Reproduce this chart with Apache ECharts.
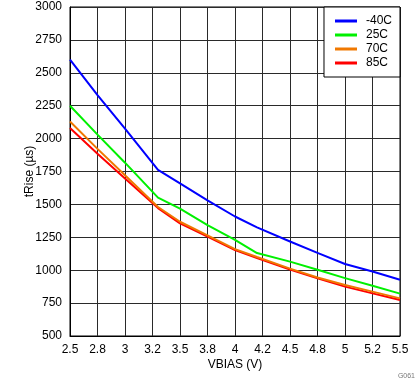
<!DOCTYPE html>
<html>
<head>
<meta charset="utf-8">
<script src="https://cdn.jsdelivr.net/npm/echarts@6/dist/echarts.min.js"></script>
<style>
html,body{margin:0;padding:0;background:#fff;}
#chart{width:419px;height:382px;}
</style>
</head>
<body>
<div id="chart"></div>
<script>
// Data
const vbias = [2.5, 2.75, 3.0, 3.3, 3.5, 3.75, 4.0, 4.2, 4.5, 4.75, 5.0, 5.25, 5.5];
const tRiseM40 = [2600, 2330, 2075, 1762, 1660, 1530, 1408, 1326, 1218, 1132, 1047, 990, 928];
const tRise25  = [2250, 2030, 1817, 1551, 1468, 1343, 1230, 1130, 1065, 1004, 940, 882, 822];
const tRise70  = [2130, 1922, 1722, 1480, 1368, 1265, 1160, 1100, 1012, 945, 888, 837, 786];
const tRise85  = [2080, 1885, 1697, 1472, 1356, 1255, 1153, 1093, 1005, 938, 875, 824, 773];
const seriesNames = ['-40C', '25C', '70C', '85C'];
const xTickLabels = ['2.5', '2.8', '3', '3.2', '3.5', '3.8', '4', '4.2', '4.5', '4.8', '5', '5.2', '5.5'];
const yTickLabels = ['500', '750', '1000', '1250', '1500', '1750', '2000', '2250', '2500', '2750', '3000'];

const colors = ['#0000ff', '#00f000', '#f07800', '#ff0000'];
const allData = [tRiseM40, tRise25, tRise70, tRise85];

const chart = echarts.init(document.getElementById('chart'), null, {renderer: 'canvas'});
const font = 'Liberation Sans, Arial, sans-serif';

const option = {
  animation: false,
  backgroundColor: '#fff',
  textStyle: {fontFamily: font},
  grid: {left: 70, right: 19, top: 7, bottom: 46, show: true, borderColor: '#000', borderWidth: 1},
  xAxis: {
    type: 'value', min: 2.5, max: 5.5, interval: 0.25,
    name: 'VBIAS (V)', nameLocation: 'middle', nameGap: 23, nameMoveOverlap: false,
    nameTextStyle: {fontSize: 12, color: '#000', fontFamily: font},
    axisLine: {show: true, lineStyle: {color: '#000', width: 1}},
    axisTick: {show: false},
    splitLine: {show: true, lineStyle: {color: '#2a2a2a', width: 1}},
    axisLabel: {
      margin: 8, fontSize: 12, color: '#000', fontFamily: font,
      formatter: function (v) { const i = Math.round((v - 2.5) / 0.25); return xTickLabels[i] || ''; }
    }
  },
  yAxis: {
    type: 'value', min: 500, max: 3000, interval: 250,
    name: 'tRise (µs)', nameLocation: 'middle', nameGap: 34, nameMoveOverlap: false,
    nameTextStyle: {fontSize: 12, color: '#000', fontFamily: font},
    axisLine: {show: true, lineStyle: {color: '#000', width: 1}},
    axisTick: {show: false},
    splitLine: {show: true, lineStyle: {color: '#2a2a2a', width: 1}},
    axisLabel: {
      margin: 8, fontSize: 12, color: '#000', fontFamily: font,
      formatter: function (v) { const i = Math.round((v - 500) / 250); return yTickLabels[i] || ''; }
    }
  },
  legend: {
    orient: 'vertical', right: 19, top: 7,
    padding: [8, 8, 8, 11], itemGap: 2, itemWidth: 22, itemHeight: 3,
    icon: 'rect',
    borderColor: '#000', borderWidth: 1, backgroundColor: '#fff',
    textStyle: {fontSize: 12, color: '#000', fontFamily: font, padding: [0, 0, 0, 4], lineHeight: 12},
    data: seriesNames
  },
  graphic: [{
    type: 'text', right: 4, bottom: 2,
    style: {text: 'G061', fontSize: 7, fill: '#777', fontFamily: font}
  }],
  series: seriesNames.map(function (name, k) {
    return {
      name: name, type: 'line', symbol: 'none',
      data: vbias.map(function (x, i) { return [x, allData[k][i]]; }),
      lineStyle: {color: colors[k], width: 2},
      itemStyle: {color: colors[k]},
      z: 10 - k
    };
  })
};
chart.setOption(option);
</script>
</body>
</html>
